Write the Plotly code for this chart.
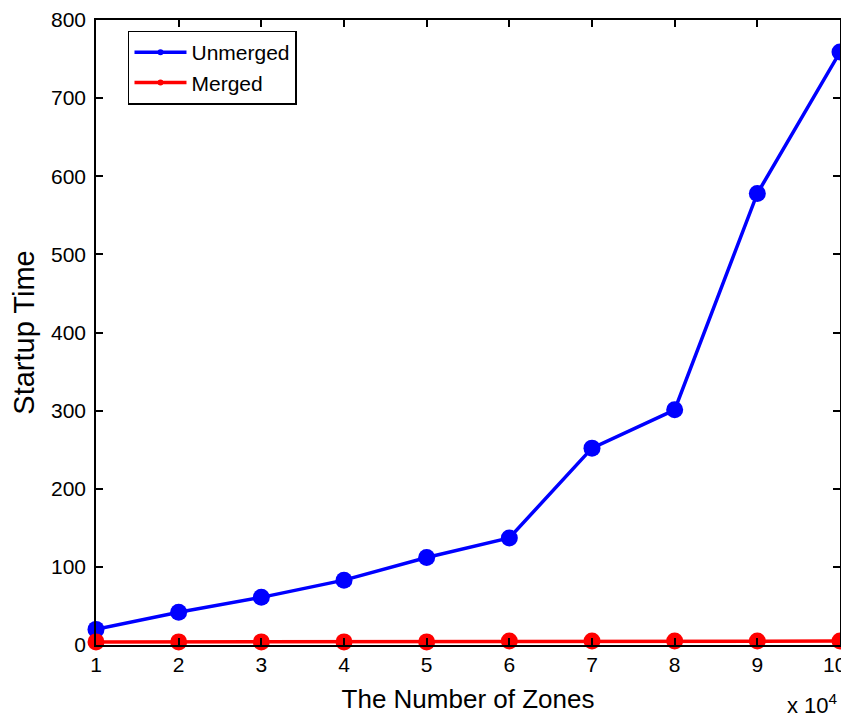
import plotly.graph_objects as go

zones = [1, 2, 3, 4, 5, 6, 7, 8, 9, 10]
unmerged = [20, 42, 61, 83, 112, 137, 252, 301, 578, 759]
merged = [4, 4, 4, 4, 4, 5, 5, 5, 5, 5]
x_ticks = [1, 2, 3, 4, 5, 6, 7, 8, 9, 10]
y_ticks = [0, 100, 200, 300, 400, 500, 600, 700, 800]

FONT = "Liberation Sans, Arial"

fig = go.Figure()
for name, vals, col in [("Unmerged", unmerged, "#0000ff"), ("Merged", merged, "#ff0000")]:
    fig.add_trace(go.Scatter(x=zones, y=vals, mode="lines+markers", name=name,
                             line=dict(color=col, width=3.5),
                             marker=dict(color=col, size=17),
                             cliponaxis=False, showlegend=False))
for name, col in [("Unmerged", "#0000ff"), ("Merged", "#ff0000")]:
    fig.add_trace(go.Scatter(x=[None], y=[None], mode="lines+markers", name=name,
                             line=dict(color=col, width=3.5),
                             marker=dict(color=col, size=6)))

axis_common = dict(showline=True, linecolor="black", linewidth=1.5, mirror="ticks",
                   ticks="inside", ticklen=7, tickcolor="black", tickwidth=1.5,
                   showgrid=False, zeroline=False, automargin=False,
                   tickfont=dict(family=FONT, size=21, color="black"))

# last x tick label sits on the figure's right edge; draw it right-anchored so it stays inside the page
last_label = str(x_ticks[-1])

fig.update_layout(
    width=841, height=712,
    margin=dict(l=88, r=9, t=12, b=75),
    paper_bgcolor="white", plot_bgcolor="white",
    xaxis=dict(range=[1, 10], tickvals=x_ticks,
               ticktext=[str(v) for v in x_ticks[:-1]] + [""],
               title=dict(text="The Number of Zones", standoff=15,
                          font=dict(family=FONT, size=26, color="black")),
               **axis_common),
    yaxis=dict(range=[0, 800], tickvals=y_ticks, ticktext=[str(v) for v in y_ticks],
               ticklabelstandoff=4, ticklabeloverflow="allow",
               title=dict(text="Startup Time", standoff=14,
                          font=dict(family=FONT, size=29, color="black")),
               **axis_common),
    legend=dict(x=0.043, y=0.983, xanchor="left", yanchor="top",
                bordercolor="black", borderwidth=1.5, bgcolor="white",
                font=dict(family=FONT, size=21, color="black"),
                itemwidth=52, tracegroupgap=0),
    annotations=[
        dict(text=last_label, xref="x", yref="paper", x=x_ticks[-1], y=0,
             xanchor="right", yanchor="top", xshift=8, yshift=-6, showarrow=False,
             font=dict(family=FONT, size=21, color="black")),
        dict(text="x 10<sup>4</sup>", xref="paper", yref="paper",
             x=1.0, y=-0.12, xanchor="right", yanchor="bottom", showarrow=False,
             font=dict(family=FONT, size=22, color="black")),
    ],
)

fig.write_html("out.html")
